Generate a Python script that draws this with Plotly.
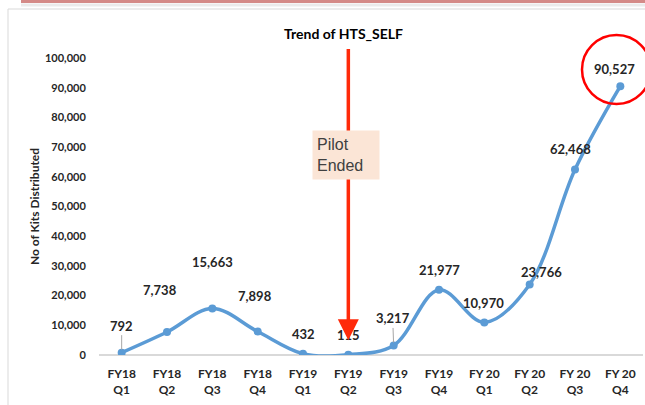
import plotly.graph_objects as go

quarters = ["FY18<br>Q1", "FY18<br>Q2", "FY18<br>Q3", "FY18<br>Q4",
            "FY19<br>Q1", "FY19<br>Q2", "FY19<br>Q3", "FY19<br>Q4",
            "FY 20<br>Q1", "FY 20<br>Q2", "FY 20<br>Q3", "FY 20<br>Q4"]
kits = [792, 7738, 15663, 7898, 432, 115, 3217, 21977, 10970, 23766, 62468, 90527]
y_ticks = list(range(0, 100001, 10000))

# label offsets (pixels) and whether a leader line is drawn
label_dx = [0, -7, 0, -3, 0, 0, -1, 0, -1, 12, -5, -6]
label_dy = [-27, -42, -46, -36, -20, -20, -27, -20, -19, -12, -20, -17]
leader = [True, False, False, False, False, False, True, False, False, True, False, False]

xs = list(range(len(quarters)))
LBL = "Lato, 'Open Sans', Arial, sans-serif"


def px(x):
    return (x - 99) / 544


def py(y):
    return (355 - y) / 297


fig = go.Figure()
fig.add_trace(go.Scatter(
    x=xs, y=kits, mode="lines+markers",
    line=dict(color="#5B9BD5", width=3.5, shape="spline", smoothing=1.0),
    marker=dict(color="#5B9BD5", size=8),
    hoverinfo="skip", showlegend=False))

annotations = []
for i, v in enumerate(kits):
    txt = f"<b>{v:,}</b>"
    if leader[i]:
        annotations.append(dict(x=i, y=v, xref="x", yref="y", text=txt,
                                showarrow=True, ax=label_dx[i], ay=label_dy[i],
                                arrowhead=0, arrowwidth=1, arrowcolor="#A6A6A6",
                                standoff=3, font=dict(family=LBL, size=13, color="#262626")))
    else:
        annotations.append(dict(x=i, y=v, xref="x", yref="y", text=txt,
                                showarrow=False, xshift=label_dx[i], yshift=-label_dy[i],
                                font=dict(family=LBL, size=13, color="#262626")))

# Pilot ended arrow
annotations.append(dict(x=5, y=5000, xref="x", yref="y", ax=5, ay=103500,
                        axref="x", ayref="y", text="", showarrow=True,
                        arrowhead=2, arrowsize=1.2, arrowwidth=3.5, arrowcolor="#FF2A0A"))
annotations.append(dict(x=px(312), y=py(130), xref="paper", yref="paper",
                        xanchor="left", yanchor="top", align="left",
                        text="Pilot<br>Ended", showarrow=False,
                        bgcolor="#FBE5D6", width=58, height=40, borderpad=4,
                        font=dict(family="'Liberation Sans', Arial, sans-serif", size=16, color="#404040")))
# title
annotations.append(dict(x=px(343), y=py(34), xref="paper", yref="paper",
                        xanchor="center", yanchor="middle",
                        text="<b>Trend of HTS_SELF</b>", showarrow=False,
                        font=dict(family=LBL, size=14, color="#000000")))

shapes = [
    # outer frame
    dict(type="rect", xref="paper", yref="paper",
         x0=px(8), x1=px(660), y0=py(420), y1=py(9),
         line=dict(color="#D9D9D9", width=1), fillcolor="rgba(0,0,0,0)", layer="below"),
    # top red rule with soft shadow
    dict(type="line", xref="paper", yref="paper",
         x0=px(21), x1=px(660), y0=py(5), y1=py(5),
         line=dict(color="#EBEBEB", width=3)),
    dict(type="line", xref="paper", yref="paper",
         x0=px(21), x1=px(660), y0=py(1.5), y1=py(1.5),
         line=dict(color="#D48A87", width=3)),
    # red circle around the last value
    dict(type="circle", xref="paper", yref="paper",
         x0=px(582), x1=px(651), y0=py(104), y1=py(35),
         line=dict(color="#FF0000", width=2.5), fillcolor="rgba(0,0,0,0)"),
]

fig.update_layout(
    width=645, height=405,
    margin=dict(l=99, r=2, t=58, b=50),
    paper_bgcolor="white", plot_bgcolor="white",
    annotations=annotations, shapes=shapes,
    xaxis=dict(tickmode="array", tickvals=xs, ticktext=[f"<b>{q}</b>" for q in quarters],
               range=[-0.5, len(quarters) - 0.5], showgrid=False, zeroline=False,
               showline=False, ticks="outside", ticklen=8, tickcolor="rgba(0,0,0,0)",
               tickfont=dict(family=LBL, size=12, color="#262626")),
    yaxis=dict(range=[0, 100000], tickmode="array", tickvals=y_ticks,
               ticktext=[f"<b>{t:,}</b>" for t in y_ticks], showgrid=False,
               zeroline=True, zerolinecolor="#D9D9D9", zerolinewidth=2,
               showline=False, ticks="outside", ticklen=10, tickcolor="rgba(0,0,0,0)",
               tickfont=dict(family=LBL, size=11, color="#262626"),
               title=dict(text="<b>No of Kits Distributed</b>", standoff=2,
                          font=dict(family=LBL, size=12, color="#262626"))),
)

fig.write_html("out.html", config={"displayModeBar": False},
               post_script="document.body.style.margin='0px';")
